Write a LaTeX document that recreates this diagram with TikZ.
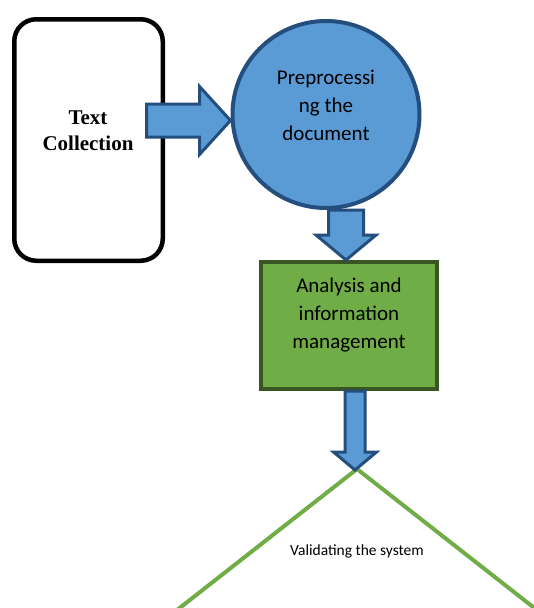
\documentclass[tikz,border=0pt]{standalone}
\usepackage{fontspec}
\setmainfont{Liberation Serif}
\newfontfamily\calibri{Carlito}
\usetikzlibrary{calc}
\definecolor{bluefill}{RGB}{91,155,213}
\definecolor{blueline}{RGB}{35,78,126}
\definecolor{greenfill}{RGB}{112,173,71}
\definecolor{greenline}{RGB}{55,86,35}
\tikzset{srcbox/.style={draw=black,line width=4.5pt,rounded corners=22pt,minimum width=148.5pt,minimum height=241.5pt}}
\tikzset{procbox/.style={circle,draw=blueline,fill=bluefill,line width=4pt,minimum size=187pt,inner sep=0pt}}
\tikzset{anabox/.style={draw=greenline,fill=greenfill,line width=4pt,minimum width=176pt,minimum height=127pt,inner sep=0pt}}
\tikzset{blockarr/.style={draw=blueline,fill=bluefill,line width=3pt,line join=miter}}
\tikzset{l/.style={font=\calibri\fontsize{21}{28}\selectfont,align=center}}
\tikzset{s/.style={font=\calibri\fontsize{15.5}{18}\selectfont}}

\begin{document}
\begin{tikzpicture}[x=1pt,y=-1pt]
  \clip (0,0) rectangle (534,608);
  \node[srcbox] (src) at (88.5,140) {};
  \node[font=\bfseries\fontsize{21}{26}\selectfont,align=center] (srclbl) at (88,131) {Text\\Collection};
  \node[procbox] (proc) at (326,114.5) {};
  \node[l] (proclbl) at (326,105) {Preprocessi\\ng the\\document};
  \node[anabox] (ana) at (349,325.5) {};
  \node[l] (analbl) at (349,315) {Analysis and\\information\\management};
  % validation triangle, cut by the bottom edge
  \coordinate (apex) at (357,469);
  \draw[greenfill,line width=4pt,line join=miter] (apex) ++(-185,145) -- (apex) -- ++(185,145);
  \node[s] (vallbl) at (357,551) {Validating the system};
  % block arrows
  \draw[blockarr] (proc.west) ++(0,6) -- ++(-31,-34) -- ++(0,17.5) -- ++(-53,0) -- ++(0,33)
    -- ++(53,0) -- ++(0,17.5) -- cycle;
  \draw[blockarr] (ana.north) ++(-3,0) -- ++(-30,-25) -- ++(12.5,0) -- ++(0,-25) -- ++(35,0)
    -- ++(0,25) -- ++(12.5,0) -- cycle;
  \draw[blockarr] (apex) ++(-2,1) -- ++(-21.5,-18) -- ++(11.5,0) -- ++(0,-61) -- ++(20,0)
    -- ++(0,61) -- ++(11.5,0) -- cycle;
\end{tikzpicture}
\end{document}
